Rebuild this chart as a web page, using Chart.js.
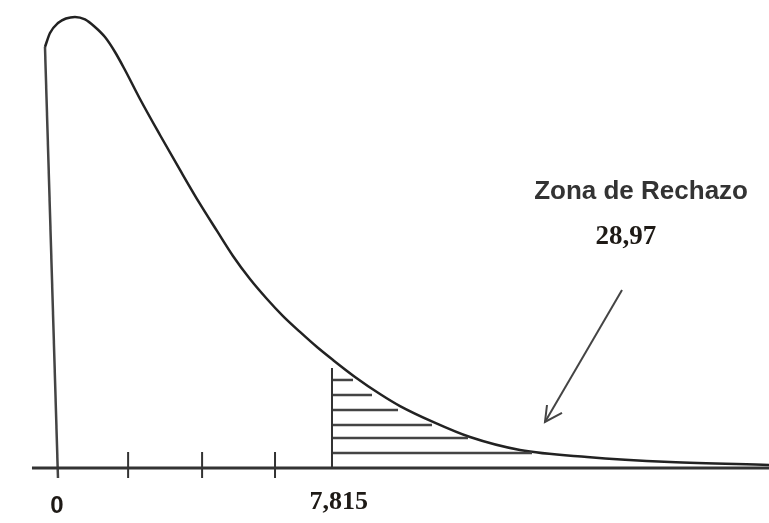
<!DOCTYPE html>
<html>
<head>
<meta charset="utf-8">
<script src="https://cdn.jsdelivr.net/npm/chart.js@4.4.1/dist/chart.umd.min.js"></script>
<style>
  html, body { margin: 0; padding: 0; background: #fff; }
  canvas { display: block; }
</style>
</head>
<body>
<canvas id="chi" width="769" height="523"></canvas>
<script>
// density curve
const curveX = [-0.371, -0.228, 0, 0.228, 0.485, 0.77, 1.055, 1.34, 1.626, 1.911, 2.339, 2.909, 3.48, 4.05,
  4.535, 4.991, 5.476, 5.961, 6.418, 6.902, 7.387, 7.844, 8.471, 9.184, 9.755, 10.696, 11.751, 13.177,
  15.088, 17.456, 20.28];
const curveY = [0.2339, 0.2417, 0.2472, 0.2497, 0.2506, 0.2492, 0.245, 0.2394, 0.2311, 0.2211, 0.205, 0.185,
  0.1656, 0.1467, 0.1317, 0.1178, 0.105, 0.0939, 0.0844, 0.0756, 0.0672, 0.06, 0.0506, 0.0411, 0.0344,
  0.0256, 0.0172, 0.01, 0.0061, 0.0033, 0.0017];

const critical = 7.815;
const critTop = 0.0556;
const tickX = [2.0, 4.11, 6.19];
const tickLen = [0.0089, -0.0056];

// hatching of the rejection zone
const hatchY = [0.0489, 0.0406, 0.0322, 0.0239, 0.0167, 0.0083];
const hatchEnd = [8.414, 8.956, 9.698, 10.667, 11.694, 13.519];

// arrow towards the zone
const arrowX = [16.087, 13.89];
const arrowY = [0.0989, 0.0256];
const arrowHeadX = [13.947, 13.89, 14.375];
const arrowHeadY = [0.035, 0.0256, 0.0306];

const axisX = [-0.742, 20.28];

const labels = [
  { text: 'Zona de Rechazo', x: 16.63, y: 0.1533, font: 'bold 26px "Liberation Sans", Arial, sans-serif', color: '#333' },
  { text: '28,97', x: 16.2, y: 0.1283, font: 'bold 27px "Liberation Serif", "Times New Roman", serif', color: '#1e1a16' },
  { text: '0', x: -0.03, y: -0.0211, font: 'bold 24px "Liberation Sans", Arial, sans-serif', color: '#1e1a16' },
  { text: '7,815', x: 8.01, y: -0.0189, font: 'bold 26px "Liberation Serif", "Times New Roman", serif', color: '#1e1a16' }
];

function pts(xs, ys) {
  return xs.map((x, i) => ({ x: x, y: ys[i] }));
}

function seg(data, color, width) {
  return { data: data, showLine: true, borderColor: color, borderWidth: width, pointRadius: 0, fill: false, tension: 0 };
}

const datasets = [];

datasets.push(seg([{ x: axisX[0], y: 0 }, { x: axisX[1], y: 0 }], '#333', 3));
datasets.push(seg([{ x: curveX[0], y: curveY[0] }, { x: 0, y: tickLen[1] }], '#444', 2.5));
tickX.forEach(t => datasets.push(seg([{ x: t, y: tickLen[0] }, { x: t, y: tickLen[1] }], '#333', 2)));
datasets.push(seg([{ x: critical, y: critTop }, { x: critical, y: 0 }], '#333', 2));
hatchY.forEach((h, i) => datasets.push(seg([{ x: critical, y: h }, { x: hatchEnd[i], y: h }], '#444', 2.5)));
datasets.push(seg(pts(arrowX, arrowY), '#444', 2));
datasets.push(seg(pts(arrowHeadX, arrowHeadY), '#444', 2));

const curve = seg(pts(curveX, curveY), '#222', 2.5);
curve.cubicInterpolationMode = 'monotone';
datasets.push(curve);

const textPlugin = {
  id: 'texts',
  afterDatasetsDraw(chart) {
    const ctx = chart.ctx;
    const sx = chart.scales.x, sy = chart.scales.y;
    ctx.save();
    ctx.textAlign = 'center';
    ctx.textBaseline = 'middle';
    labels.forEach(l => {
      ctx.font = l.font;
      ctx.fillStyle = l.color;
      ctx.fillText(l.text, sx.getPixelForValue(l.x), sy.getPixelForValue(l.y));
    });
    ctx.restore();
  }
};

new Chart(document.getElementById('chi'), {
  type: 'scatter',
  data: { datasets: datasets },
  options: {
    responsive: false,
    animation: false,
    layout: { padding: 0 },
    plugins: { legend: { display: false }, tooltip: { enabled: false } },
    scales: {
      x: { type: 'linear', display: false, min: -1.654, max: 20.279 },
      y: { type: 'linear', display: false, min: -0.03056, max: 0.26 }
    },
    elements: { line: { borderCapStyle: 'butt' } }
  },
  plugins: [textPlugin]
});
</script>
</body>
</html>
